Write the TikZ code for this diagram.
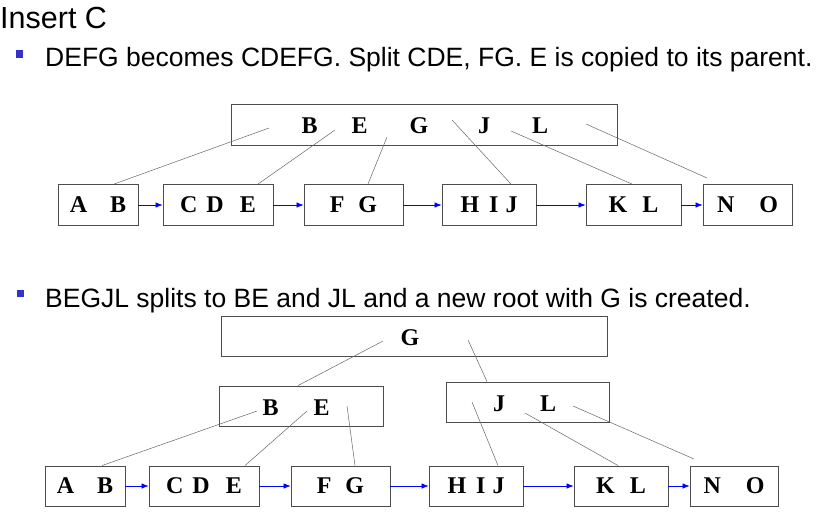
\documentclass[tikz,border=0pt]{standalone}
\usepackage{fontspec}
\setmainfont{Liberation Serif}
\newfontfamily\slidefont{Liberation Sans}
\usetikzlibrary{arrows.meta}

\definecolor{bulletblue}{RGB}{51,51,204}

\tikzset{
  keybox/.style={draw=black!70, line width=0.9pt, inner sep=0pt},
  keys/.style={font=\fontsize{24}{24}\selectfont\bfseries},
  link/.style={draw=black!60, line width=0.5pt},
  nextptr/.style={blue, line width=0.6pt, -{Latex[length=7pt,width=5.5pt]}},
  bullet/.style={fill=bulletblue, minimum width=7pt, minimum height=7.5pt, inner sep=0pt}
}

\begin{document}
\begin{tikzpicture}[x=1pt, y=-1pt]
    \useasboundingbox (0,0) rectangle (824,520);

    % slide text
    \node[anchor=base west, inner sep=0pt, font=\slidefont\fontsize{30.5}{30}\selectfont] (title) at (0,28) {Insert C};

    \node[bullet] (dot1) at (19.5,54) {};

    \node[anchor=base west, inner sep=0pt, font=\slidefont\fontsize{26.5}{26}\selectfont] (line1) at (45,66) {DEFG becomes CDEFG. Split CDE, FG. E is copied to its parent.};

    \node[bullet] (dot2) at (20,293.5) {};

    \node[anchor=base west, inner sep=0pt, font=\slidefont\fontsize{26.5}{26}\selectfont] (line2) at (45,307) {BEGJL splits to BE and JL and a new root with G is created.};

    % before the split of the root
    \node[keybox, minimum width=386pt, minimum height=41pt] (root1) at (424,124.5) {};

    \foreach \k/\x in {B/309.5, E/359.5, G/419, J/484, L/540}
      \node[keys, anchor=base, inner sep=0pt] (r1\k) at (\x,133) {\k};

    \node[keybox, keys, minimum width=80pt, minimum height=41pt] (ab1) at (98,205) {A\hspace{23pt}B};
    \node[keybox, keys, minimum width=110pt, minimum height=41pt] (cde1) at (218,205) {C\hspace{9pt}D\hspace{16pt}E};
    \node[keybox, keys, minimum width=99pt, minimum height=41pt] (fg1) at (353.5,205) {F\hspace{14pt}G};
    \node[keybox, keys, minimum width=94pt, minimum height=41pt] (hij1) at (489,205) {H\hspace{10pt}I\hspace{7pt}J};
    \node[keybox, keys, minimum width=95pt, minimum height=41pt] (kl1) at (633.5,205) {K\hspace{15pt}L};
    \node[keybox, keys, minimum width=89pt, minimum height=41pt] (no1) at (747.5,205) {N\hspace{25pt}O};

    \foreach \a/\b in {ab1/cde1, cde1/fg1, fg1/hij1, hij1/kl1, kl1/no1}
      \draw[nextptr] (\a) -- (\b);

    \coordinate (t1) at (269,128);
    \coordinate (t2) at (335,130);
    \coordinate (t3) at (387,137);
    \coordinate (t4) at (452,120);
    \coordinate (t5) at (511,131);
    \coordinate (t6) at (586,124);
    \coordinate (n6) at (707,178);

    \draw[link] (t1) -- ([xshift=16pt]ab1.north);
    \draw[link] (t2) -- ([xshift=40pt]cde1.north);
    \draw[link] (t3) -- ([xshift=14.5pt]fg1.north);
    \draw[link] (t4) -- ([xshift=22pt]hij1.north);
    \draw[link] (t5) -- ([xshift=-1.5pt]kl1.north);
    \draw[link] (t6) -- (n6);

    % after the split, new root
    \node[keybox, minimum width=386pt, minimum height=40pt] (root2) at (414,336) {};
    \node[keys, anchor=base, inner sep=0pt] (r2G) at (410,345) {G};

    \node[keybox, minimum width=164pt, minimum height=40pt] (be) at (301,406) {};
    \node[keys, anchor=base, inner sep=0pt] (beB) at (270.5,415) {B};
    \node[keys, anchor=base, inner sep=0pt] (beE) at (321.5,415) {E};

    \node[keybox, minimum width=163pt, minimum height=40pt] (jl) at (527.5,402) {};
    \node[keys, anchor=base, inner sep=0pt] (jlJ) at (499,411) {J};
    \node[keys, anchor=base, inner sep=0pt] (jlL) at (548,411) {L};

    \node[keybox, keys, minimum width=80pt, minimum height=40pt] (ab2) at (85,486) {A\hspace{23pt}B};
    \node[keybox, keys, minimum width=110pt, minimum height=40pt] (cde2) at (204,486) {C\hspace{9pt}D\hspace{16pt}E};
    \node[keybox, keys, minimum width=99pt, minimum height=40pt] (fg2) at (340.5,486) {F\hspace{14pt}G};
    \node[keybox, keys, minimum width=94pt, minimum height=40pt] (hij2) at (476,486) {H\hspace{10pt}I\hspace{7pt}J};
    \node[keybox, keys, minimum width=94pt, minimum height=40pt] (kl2) at (621,486) {K\hspace{15pt}L};
    \node[keybox, keys, minimum width=88pt, minimum height=40pt] (no2) at (734,486) {N\hspace{25pt}O};

    \foreach \a/\b in {ab2/cde2, cde2/fg2, fg2/hij2, hij2/kl2, kl2/no2}
      \draw[nextptr] (\a) -- (\b);

    \coordinate (g1) at (383,341);
    \coordinate (g2) at (468,340);
    \coordinate (b1) at (257,411);
    \coordinate (b2) at (307,411);
    \coordinate (b3) at (347,406);
    \coordinate (j1) at (472,402);
    \coordinate (j2) at (525,413);
    \coordinate (j3) at (573,406);
    \coordinate (n7) at (694,459);

    \draw[link] (g1) -- ([xshift=-3pt]be.north);
    \draw[link] (g2) -- ([xshift=-40.5pt]jl.north);

    \draw[link] (b1) -- ([xshift=17pt]ab2.north);
    \draw[link] (b2) -- ([xshift=41pt]cde2.north);
    \draw[link] (b3) -- ([xshift=14.5pt]fg2.north);
    \draw[link] (j1) -- ([xshift=22pt]hij2.north);
    \draw[link] (j2) -- ([xshift=-3pt]kl2.north);
    \draw[link] (j3) -- (n7);

  \end{tikzpicture}
\end{document}
